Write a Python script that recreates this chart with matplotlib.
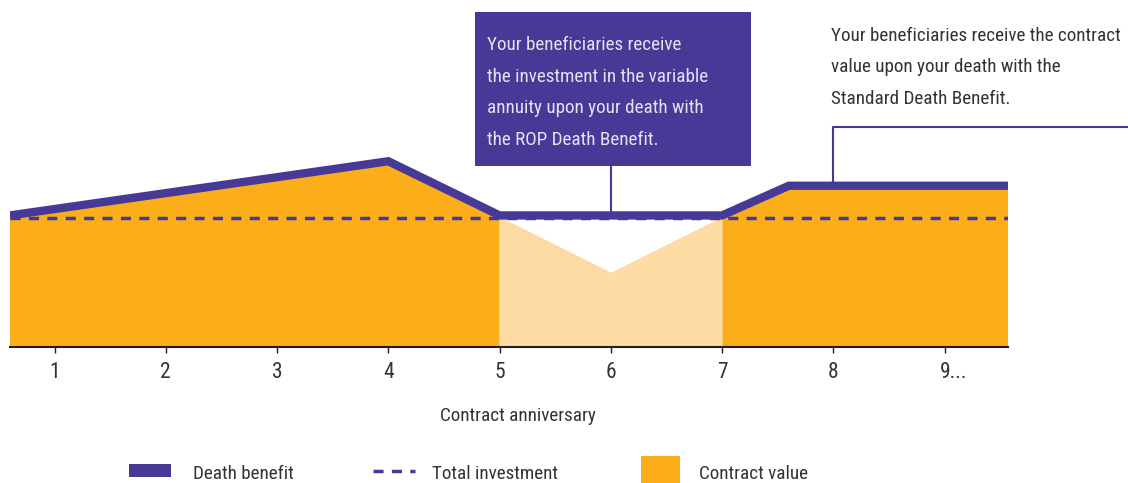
#!/usr/bin/env python3
"""Death benefit vs contract value over contract anniversaries."""

import matplotlib

matplotlib.use("Agg")
import matplotlib.pyplot as plt
import numpy as np
from matplotlib import font_manager
from matplotlib.lines import Line2D
from matplotlib.patches import Rectangle
from matplotlib.transforms import ScaledTranslation

# ---- data ----
db_years = [0.6, 4, 5, 7, 7.6, 9.57]
death_benefit = [102, 144, 102, 102, 125, 125]
cv_years = [0.6, 4, 5, 6, 7, 7.6, 9.57]
contract_value = [102, 144, 101, 58, 101, 125, 125]
investment_years = [0.6, 9.57]
total_investment = [100, 100]
tick_years = [1, 2, 3, 4, 5, 6, 7, 8, 9]
tick_labels = ["1", "2", "3", "4", "5", "6", "7", "8", "9..."]

rop_note = [
    "Your beneficiaries receive",
    "the investment in the variable",
    "annuity upon your death with",
    "the ROP Death Benefit.",
]
std_note = [
    "Your beneficiaries receive the contract",
    "value upon your death with the",
    "Standard Death Benefit.",
]

PURPLE = "#463A96"
ORANGE = "#FBAE1A"
LIGHT_ORANGE = "#FDDBA2"
BOX_TEXT = "#E4E1F2"
TEXT = "#333333"

names = {f.name for f in font_manager.fontManager.ttflist}
family = [f for f in ["Liberation Sans Narrow", "Roboto Condensed", "DejaVu Sans"] if f in names]
print("fonts:", family)
plt.rcParams["font.family"] = family
FS = 13.8

W, H = 1128, 483
fig = plt.figure(figsize=(W / 100, H / 100), dpi=100)
ax = fig.add_axes([10 / W, (H - 347) / H, 998 / W, 347 / H])


def fx(px):
    return px / W


def fy(py):
    return (H - py) / H


ax.set_xlim(0.6, 9.57)
ax.set_ylim(0, 269)

x_cv = np.array(cv_years)
y_cv = np.array(contract_value)
ax.fill_between(x_cv, 0, y_cv, where=(x_cv <= 5) | (x_cv >= 7), color=ORANGE, lw=0, zorder=1)
ax.fill_between(x_cv, 0, y_cv, where=(x_cv >= 5) & (x_cv <= 7), color=LIGHT_ORANGE, lw=0, zorder=1)

ax.plot(investment_years, total_investment, color=PURPLE, lw=2.5, dashes=(2.9, 2.4), zorder=2)
ax.plot(db_years, death_benefit, color=PURPLE, lw=6, solid_capstyle="butt",
        solid_joinstyle="miter", zorder=3)

# axis styling
for side in ("left", "right", "top"):
    ax.spines[side].set_visible(False)
ax.spines["bottom"].set_color("#231F20")
ax.spines["bottom"].set_linewidth(1.5)
ax.set_yticks([])
ax.set_xticks(tick_years)
ax.set_xticklabels(tick_labels)
ax.tick_params(axis="x", direction="out", length=4.5, width=1, color="#231F20",
               labelsize=15.5, labelcolor=TEXT, pad=6.5)
last = ax.get_xticklabels()[-1]
last.set_horizontalalignment("left")
last.set_transform(last.get_transform() + ScaledTranslation(-5 / 100, 0, fig.dpi_scale_trans))

ax.set_xlabel("Contract anniversary", fontsize=FS, color=TEXT, va="baseline")
ax.xaxis.set_label_coords((518 - 10) / 998, -(421 - 347) / 347)

# ROP annotation box
fig.add_artist(Rectangle((fx(475), fy(166)), fx(751) - fx(475), fy(12) - fy(166),
                         transform=fig.transFigure, color=PURPLE, lw=0, zorder=4))
for i, line in enumerate(rop_note):
    fig.text(fx(487), fy(50 + 31.7 * i), line, fontsize=FS, color=BOX_TEXT, va="baseline",
             zorder=5)
box_bottom = (347 - 166) / 347 * 269
ax.plot([6, 6], [death_benefit[2], box_bottom], color=PURPLE, lw=1.5, clip_on=False, zorder=2)

# standard death benefit annotation
for i, line in enumerate(std_note):
    fig.text(fx(831), fy(41 + 31.5 * i), line, fontsize=FS, color=TEXT, va="baseline")
elbow = (347 - 127) / 347 * 269
ax.plot([8, 8, 10.7], [death_benefit[-1], elbow, elbow], color=PURPLE, lw=1.5,
        clip_on=False, zorder=2)

# legend
fig.add_artist(Rectangle((fx(129), fy(477)), fx(171) - fx(129), fy(464) - fy(477),
                         transform=fig.transFigure, color=PURPLE, lw=0))
fig.text(fx(193), fy(479), "Death benefit", fontsize=FS, color=TEXT, va="baseline")
fig.add_artist(Line2D([fx(373), fx(415)], [fy(471), fy(471)], transform=fig.transFigure,
                      color=PURPLE, lw=2.5, dashes=(2.9, 2.4)))
fig.text(fx(432), fy(479), "Total investment", fontsize=FS, color=TEXT, va="baseline")
fig.add_artist(Rectangle((fx(641), fy(483)), fx(680) - fx(641), fy(456) - fy(483),
                         transform=fig.transFigure, color=ORANGE, lw=0))
fig.text(fx(699), fy(479), "Contract value", fontsize=FS, color=TEXT, va="baseline")

fig.savefig("out.png", dpi=100)
